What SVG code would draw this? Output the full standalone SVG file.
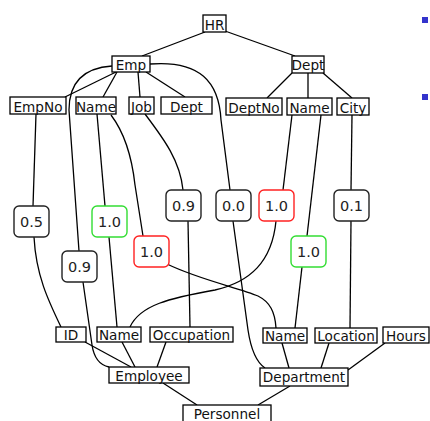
<svg xmlns="http://www.w3.org/2000/svg" width="430" height="421" viewBox="0 0 430 421">
<style>
.b rect{fill:#fff;stroke:#000;stroke-width:1.3}
.b text{font-family:"DejaVu Sans",sans-serif;font-size:13.6px;text-anchor:middle;fill:#111}
.n rect{fill:#fff;stroke:#222;stroke-width:1.4}
.n text{font-family:"DejaVu Sans",sans-serif;font-size:14.5px;text-anchor:middle;fill:#222}
.g rect{stroke:#33dd33}
.r rect{stroke:#ff2222}
#connectors path{fill:none;stroke:#000;stroke-width:1.3}
</style>
<rect width="430" height="421" fill="#fff"/>
<g id="connectors">
<path d="M205,32 L142,56"/>
<path d="M225,31 L295,56"/>
<path d="M116,72 L65,97"/>
<path d="M117,72 L103,97"/>
<path d="M138,72 L140,97"/>
<path d="M146,72 L185,97"/>
<path d="M292,73 L267,98"/>
<path d="M308,73 L308,98"/>
<path d="M323,73 L352,98"/>
<path d="M112,66 C82,68 69,84 69,110 L79,251"/>
<path d="M83,282 L92,345 C94,358 99,365 109,367"/>
<path d="M150,64 C200,60 219,82 221,120 L230,190"/>
<path d="M233,221 L248,330 C251,350 256,362 265,368"/>
<path d="M36,114 L33,206"/>
<path d="M34,237 C36,275 48,300 61,327"/>
<path d="M97,114 L105,206"/>
<path d="M109,237 L117,327"/>
<path d="M111,115 Q130,140 135,185 L143,236"/>
<path d="M167,264 C200,280 240,288 258,296 C270,302 275,312 276,328"/>
<path d="M145,114 C163,138 180,160 183,190"/>
<path d="M188,221 L190,327"/>
<path d="M292,115 L283,190"/>
<path d="M276,221 C272,262 250,282 215,290 C170,298 140,305 130,327"/>
<path d="M321,115 L307,236"/>
<path d="M302,267 L295,328"/>
<path d="M352,115 L351,190"/>
<path d="M351,221 L350,328"/>
<path d="M85,342 L131,367"/>
<path d="M122,342 L135,367"/>
<path d="M166,342 L157,367"/>
<path d="M163,383 L197,405"/>
<path d="M282,343 L289,368"/>
<path d="M329,343 L321,368"/>
<path d="M385,343 L348,370"/>
<path d="M290,386 L258,405"/>
</g>
<g id="hr" class="b"><rect x="203" y="15" width="23" height="17"/><text x="214.5" y="29.5">HR</text></g>
<g id="emp" class="b"><rect x="112" y="56" width="38" height="16"/><text x="131" y="69.5">Emp</text></g>
<g id="dept-r" class="b"><rect x="292" y="56" width="32" height="17"/><text x="308" y="70">Dept</text></g>
<g id="empno" class="b"><rect x="10" y="97" width="56" height="17"/><text x="38" y="111.5">EmpNo</text></g>
<g id="name-emp" class="b"><rect x="76" y="97" width="40" height="17"/><text x="96" y="111.5">Name</text></g>
<g id="job" class="b"><rect x="129" y="97" width="25" height="17"/><text x="141.5" y="111.5">Job</text></g>
<g id="dept-emp" class="b"><rect x="161" y="97" width="51" height="17"/><text x="186.5" y="111.5">Dept</text></g>
<g id="deptno" class="b"><rect x="226" y="98" width="56" height="17"/><text x="254" y="112.5">DeptNo</text></g>
<g id="name-dept" class="b"><rect x="287" y="98" width="45" height="17"/><text x="309.5" y="112.5">Name</text></g>
<g id="city" class="b"><rect x="337" y="98" width="32" height="17"/><text x="353" y="112.5">City</text></g>
<g id="n05" class="n"><rect x="14" y="206" width="35" height="31" rx="5"/><text x="31.5" y="226.5">0.5</text></g>
<g id="n10g1" class="n g"><rect x="92" y="206" width="35" height="31" rx="5"/><text x="109.5" y="226.5">1.0</text></g>
<g id="n09low" class="n"><rect x="62" y="251" width="35" height="31" rx="5"/><text x="79.5" y="271.5">0.9</text></g>
<g id="n10r1" class="n r"><rect x="134" y="236" width="35" height="31" rx="5"/><text x="151.5" y="256.5">1.0</text></g>
<g id="n09up" class="n"><rect x="166" y="190" width="35" height="31" rx="5"/><text x="183.5" y="210.5">0.9</text></g>
<g id="n00" class="n"><rect x="216" y="190" width="35" height="31" rx="5"/><text x="233.5" y="210.5">0.0</text></g>
<g id="n10r2" class="n r"><rect x="259" y="190" width="35" height="31" rx="5"/><text x="276.5" y="210.5">1.0</text></g>
<g id="n10g2" class="n g"><rect x="291" y="236" width="35" height="31" rx="5"/><text x="308.5" y="256.5">1.0</text></g>
<g id="n01" class="n"><rect x="334" y="190" width="35" height="31" rx="5"/><text x="351.5" y="210.5">0.1</text></g>
<g id="id" class="b"><rect x="56" y="327" width="30" height="15"/><text x="71" y="339.5">ID</text></g>
<g id="name-employee" class="b"><rect x="97" y="327" width="44" height="15"/><text x="119" y="339.5">Name</text></g>
<g id="occupation" class="b"><rect x="150" y="327" width="83" height="15"/><text x="191.5" y="339.5">Occupation</text></g>
<g id="employee" class="b"><rect x="109" y="367" width="80" height="16"/><text x="149" y="380.5">Employee</text></g>
<g id="name-department" class="b"><rect x="263" y="328" width="44" height="15"/><text x="285" y="340.5">Name</text></g>
<g id="location" class="b"><rect x="315" y="328" width="62" height="15"/><text x="346" y="340.5">Location</text></g>
<g id="hours" class="b"><rect x="383" y="327" width="46" height="16"/><text x="406" y="340.5">Hours</text></g>
<g id="department" class="b"><rect x="260" y="368" width="88" height="18"/><text x="304" y="382">Department</text></g>
<g id="personnel" class="b"><rect x="183" y="405" width="88" height="20"/><text x="227" y="419">Personnel</text></g>
<rect x="422" y="17" width="6" height="6" fill="#3333cc"/>
<rect x="422" y="94" width="6" height="6" fill="#3333cc"/>
</svg>
